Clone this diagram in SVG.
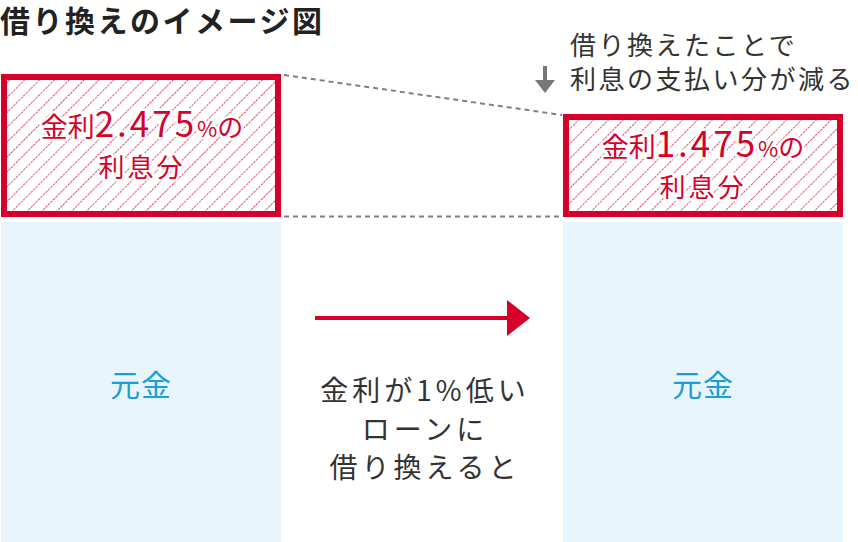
<svg xmlns="http://www.w3.org/2000/svg" width="858" height="542" viewBox="0 0 858 542">
<style>
text{font-family:"Noto Sans CJK JP","Noto Sans",sans-serif}
.title{font-size:30px;font-weight:700;fill:#222;letter-spacing:2.5px}
.note{font-size:26px;fill:#333;letter-spacing:2.5px}
.mid{font-size:28px;fill:#333;letter-spacing:4px}
.red{fill:#d7002a;stroke:#fff;stroke-width:5px;paint-order:stroke;stroke-linejoin:round;text-anchor:middle}
.blue{font-size:30px;fill:#1a9fd9;text-anchor:middle;letter-spacing:1px}
.box{fill:url(#hatch);stroke:#d7002a;stroke-width:6}
.base{fill:#e8f5fc}
.dash{stroke:#808080;stroke-width:2;stroke-dasharray:5 4;fill:none}
</style>
<defs>
<pattern id="hatch" width="10.5" height="10.5" patternUnits="userSpaceOnUse" patternTransform="rotate(45)">
<rect width="10.5" height="10.5" fill="#fff"/>
<line x1="0" y1="0" x2="0" y2="10.5" stroke="#e23a63" stroke-width="1.8" stroke-dasharray="2.5 1"/>
</pattern>
</defs>
<text class="title" x="0" y="32">借り換えのイメージ図</text>
<g id="left-base"><rect class="base" x="1" y="222" width="280" height="320"/><text class="blue" x="141" y="396">元金</text></g>
<g id="right-base"><rect class="base" x="563" y="222" width="280" height="320"/><text class="blue" x="703" y="396">元金</text></g>
<g id="left-interest">
<rect class="box" x="4" y="77" width="274" height="137"/>
<text class="red" x="142" y="137"><tspan font-size="27">金利</tspan><tspan font-size="35" letter-spacing="3">2.475</tspan><tspan font-size="22">%</tspan><tspan font-size="26">の</tspan></text>
<text class="red" x="142" y="177" font-size="26" letter-spacing="3">利息分</text>
</g>
<g id="right-interest">
<rect class="box" x="566" y="117" width="274" height="97"/>
<text class="red" x="703" y="157"><tspan font-size="27">金利</tspan><tspan font-size="35" letter-spacing="3">1.475</tspan><tspan font-size="22">%</tspan><tspan font-size="26">の</tspan></text>
<text class="red" x="703" y="197" font-size="26" letter-spacing="3">利息分</text>
</g>
<g id="note">
<text class="note" x="570" y="55">借り換えたことで</text>
<text class="note" x="570" y="89">利息の支払い分が減る</text>
<path d="M543 66 H547 V80 H555 L545 93 L535 80 H543 Z" fill="#777"/>
</g>
<g id="connectors">
<line class="dash" x1="284" y1="75" x2="562" y2="115"/>
<line class="dash" x1="284" y1="216.5" x2="562" y2="216.5"/>
<line x1="315" y1="318" x2="509" y2="318" stroke="#d7002a" stroke-width="4"/>
<polygon points="507,300 530,318 507,336" fill="#d7002a"/>
</g>
<g id="mid-label">
<text class="mid" text-anchor="middle" x="425" y="401">金利が1%低い</text>
<text class="mid" text-anchor="middle" x="425" y="440">ローンに</text>
<text class="mid" text-anchor="middle" x="425" y="478">借り換えると</text>
</g>
</svg>
